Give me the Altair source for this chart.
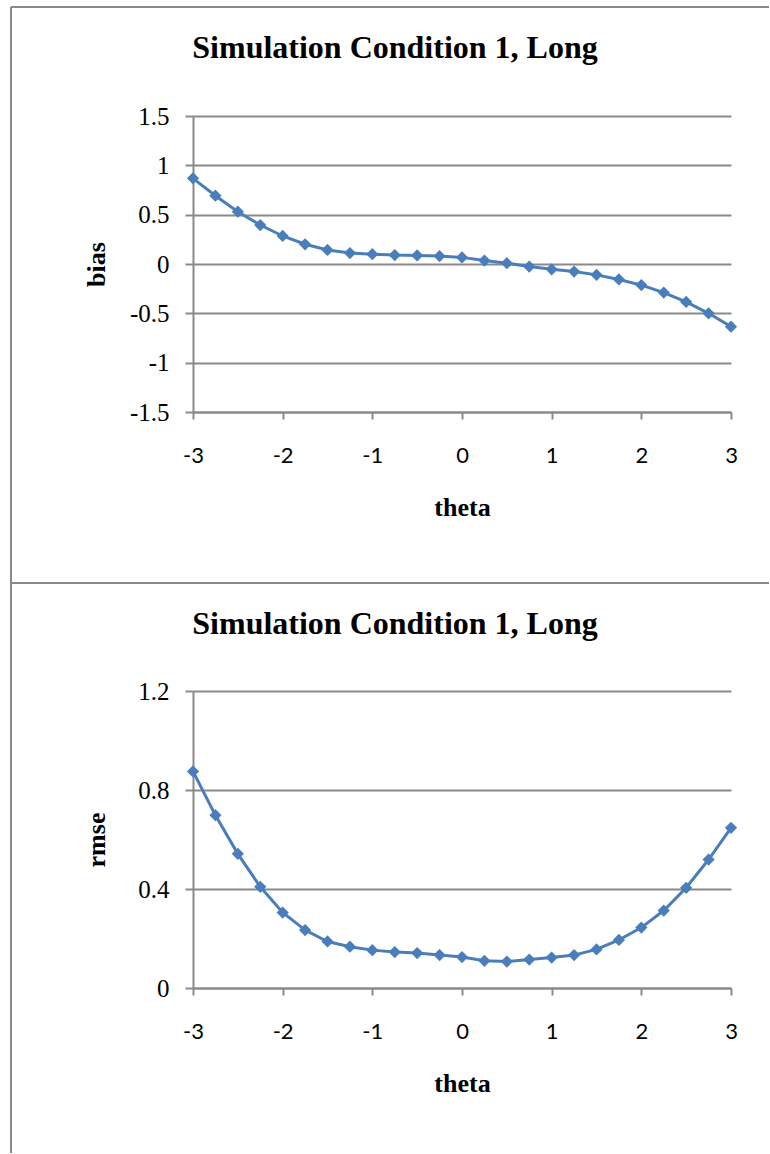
import altair as alt
import pandas as pd

theta = [-3, -2.75, -2.5, -2.25, -2, -1.75, -1.5, -1.25, -1, -0.75, -0.5, -0.25, 0,
         0.25, 0.5, 0.75, 1, 1.25, 1.5, 1.75, 2, 2.25, 2.5, 2.75, 3]
bias = [0.868, 0.692, 0.530, 0.395, 0.284, 0.200, 0.142, 0.111, 0.100, 0.090, 0.087,
        0.080, 0.067, 0.035, 0.008, -0.026, -0.054, -0.077, -0.110, -0.157, -0.214,
        -0.290, -0.385, -0.500, -0.635]
rmse = [0.875, 0.698, 0.542, 0.409, 0.305, 0.234, 0.188, 0.167, 0.153, 0.145, 0.141,
        0.133, 0.125, 0.110, 0.107, 0.115, 0.123, 0.133, 0.156, 0.194, 0.244, 0.313,
        0.405, 0.519, 0.647]
x_ticks = [-3, -2, -1, 0, 1, 2, 3]
bias_ticks = [-1.5, -1, -0.5, 0, 0.5, 1, 1.5]
rmse_ticks = [0, 0.4, 0.8, 1.2]
title_text = "Simulation Condition 1, Long"

df = pd.DataFrame({"theta": theta, "bias": bias, "rmse": rmse})

BLUE = "#4A7EBB"
GRAY = "#8a8a8a"
W = 538


def panel(field, domain, ticks, h, title_y, border_top, border_len):
    xax = alt.Axis(values=x_ticks, labelExpr="toString(datum.value)", grid=False,
                   labelFlush=False, title="theta", titleX=W / 2, titleY=95)
    yax = alt.Axis(values=ticks, labelExpr="toString(datum.value)", grid=True,
                   labelFlush=False, title=field, titleY=h / 2)
    base = alt.Chart(df).encode(
        x=alt.X("theta:Q", scale=alt.Scale(domain=[-3, 3], nice=False, zero=False), axis=xax),
        y=alt.Y(f"{field}:Q", scale=alt.Scale(domain=domain, nice=False, zero=False), axis=yax),
    )
    line = base.mark_line(color=BLUE, strokeWidth=3)
    pts = base.mark_point(shape="diamond", filled=True, size=150, color=BLUE, opacity=1)
    one = alt.Data(values=[{}])
    ttl = alt.Chart(one).mark_text(text=title_text, font="Liberation Serif", fontSize=32,
                                   fontWeight="bold", align="center",
                                   baseline="alphabetic", color="black").encode(
        x=alt.value(202), y=alt.value(title_y))
    top_rule = alt.Chart(one).mark_rule(color=GRAY, strokeWidth=2).encode(
        x=alt.value(-182), x2=alt.value(576), y=alt.value(border_top))
    left_rule = alt.Chart(one).mark_rule(color=GRAY, strokeWidth=2).encode(
        x=alt.value(-182), y=alt.value(border_top), y2=alt.value(border_top + border_len))
    return alt.layer(top_rule, left_rule, line, pts, ttl).properties(width=W, height=h)


top = panel("bias", [-1.5, 1.5], bias_ticks, 296, -58, -109, 576)
bottom = panel("rmse", [0, 1.2], rmse_ticks, 297, -57, -108, 570)

chart = alt.vconcat(top, bottom, spacing=279, bounds="flush").properties(
    padding={"left": 10, "top": 6, "right": 0, "bottom": 0}
).configure_view(stroke=None).configure_axis(
    domainColor=GRAY, domainWidth=2, gridColor=GRAY, gridWidth=2,
    tickColor=GRAY, tickWidth=2, labelColor="black", titleColor="black",
    titleFont="Liberation Serif", titleFontSize=26, titleFontWeight="bold",
    titleAlign="center", titleBaseline="middle"
).configure_axisX(
    labelFont="Lato", labelFontSize=22, labelBaseline="middle", labelPadding=36,
    tickSize=7
).configure_axisY(
    labelFont="Liberation Serif", labelFontSize=25, labelPadding=16, tickSize=8,
    titleX=-97, titleAngle=270
)

chart.save("out.html", embed_options={"renderer": "svg", "actions": False})
